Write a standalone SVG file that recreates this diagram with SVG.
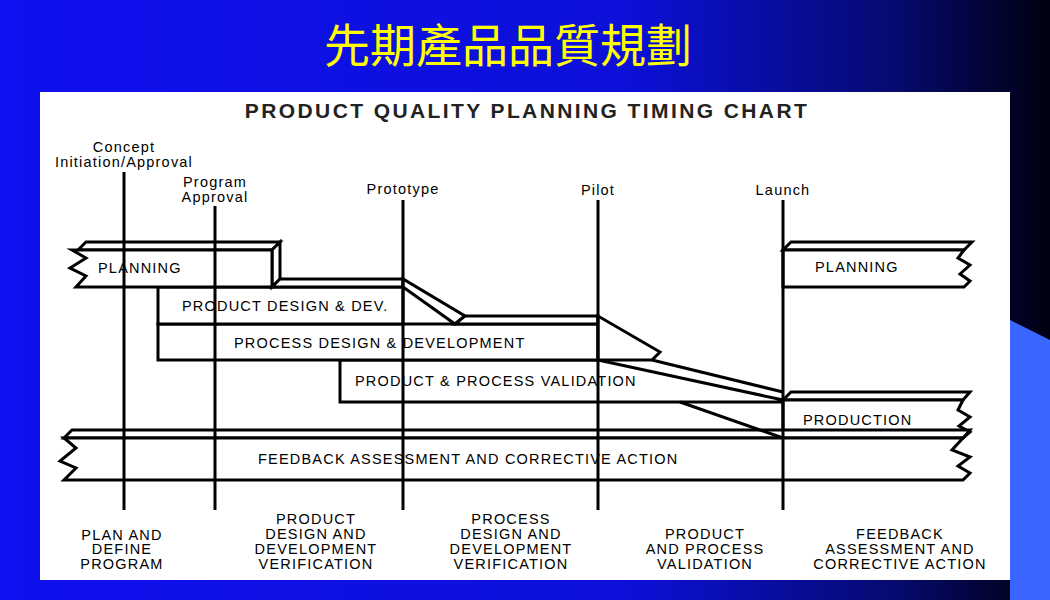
<svg xmlns="http://www.w3.org/2000/svg" width="1050" height="600" viewBox="0 0 1050 600">
<defs>
<linearGradient id="bg" x1="0" y1="0" x2="1" y2="0">
<stop offset="0" stop-color="#1010f0"/><stop offset="0.6" stop-color="#0c10d8"/><stop offset="0.85" stop-color="#060a70"/><stop offset="1" stop-color="#000010"/>
</linearGradient>
<style>
.s{fill:#fff;stroke:#000;stroke-width:3;stroke-linejoin:miter}
.v{stroke:#000;stroke-width:3}
.t{font-family:"Liberation Sans",Arial,sans-serif;font-size:14.5px;fill:#000;letter-spacing:1.2px}
.m{text-anchor:middle}
</style>
</defs>
<rect width="1050" height="600" fill="url(#bg)"/>
<path d="M1010,320 Q1030,330 1050,340 L1050,600 L1010,600 Z" fill="#3a66ff"/>
<text x="508" y="62" text-anchor="middle" font-family="'Noto Sans CJK TC','Noto Sans CJK SC',sans-serif" font-size="46" fill="#ffff00">先期產品品質規劃</text>
<rect x="40" y="92" width="970" height="488" fill="#fff"/>
<text x="527" y="118" text-anchor="middle" font-family="'Liberation Sans',Arial,sans-serif" font-weight="bold" font-size="21" letter-spacing="2.4" fill="#222">PRODUCT QUALITY PLANNING TIMING CHART</text>
<g id="milestones">
<text class="t m" x="124" y="152">Concept</text><text class="t m" x="124" y="167">Initiation/Approval</text>
<text class="t m" x="215" y="187">Program</text><text class="t m" x="215" y="202">Approval</text>
<text class="t m" x="403" y="194">Prototype</text>
<text class="t m" x="598" y="195">Pilot</text>
<text class="t m" x="783" y="195">Launch</text>
</g>
<g id="bars">
<g id="ppv"><polygon class="s" points="340,360 598,360 783,400 783,402 340,402"/><text class="t" x="355" y="386">PRODUCT &amp; PROCESS VALIDATION</text></g>
<g id="procdes"><rect class="s" x="158" y="324" width="440" height="36"/><text class="t" x="234" y="348">PROCESS DESIGN &amp; DEVELOPMENT</text></g>
<g id="proddes"><rect class="s" x="158" y="287" width="245" height="37"/><text class="t" x="182" y="311">PRODUCT DESIGN &amp; DEV.</text></g>
<g id="planning1">
<polygon class="s" points="78,250 86,242 280,242 272,250"/>
<polygon class="s" points="272,250 280,242 280,279 272,287"/>
<polygon class="s" points="72,250 272,250 272,287 76,287 86,276 70,268 86,258"/>
<text class="t" x="98" y="273">PLANNING</text>
</g>
<g id="planning2">
<polygon class="s" points="783,250 791,242 972,242 964,250"/>
<polygon class="s" points="783,250 964,250 958,258 970,265 960,274 970,281 964,287 783,287"/>
<text class="t" x="815" y="272">PLANNING</text>
</g>
<g id="production">
<polygon class="s" points="783,400 791,392 970,392 963,400"/>
<polygon class="s" points="783,400 963,400 958,410 970,417 959,426 970,432 963,438 783,438"/>
<text class="t" x="803" y="425">PRODUCTION</text>
</g>
<g id="feedback">
<polygon class="s" points="64,438 72,430 970,430 963,438"/>
<polygon class="s" points="64,438 963,438 952,450 970,457 958,466 970,473 963,480 64,480 76,468 60,461 76,448"/>
<text class="t" x="258" y="464">FEEDBACK ASSESSMENT AND CORRECTIVE ACTION</text>
</g>
</g>
<g id="connectors" fill="#fff" stroke="#000" stroke-width="3">
<polygon points="280,279 403,279 403,287 272,287"/>
<polygon points="403,287 403,279 465,316 455,324"/>
<polygon points="455,324 465,316 598,316 598,324"/>
<polygon points="598,324 598,316 660,352 652,360 598,360"/>
<line x1="652" y1="360" x2="783" y2="392"/>
<line x1="680" y1="402" x2="783" y2="438"/>
</g>
<g id="timelines">
<line class="v" x1="124" y1="172" x2="124" y2="510"/>
<line class="v" x1="215" y1="206" x2="215" y2="510"/>
<line class="v" x1="403" y1="200" x2="403" y2="510"/>
<line class="v" x1="598" y1="200" x2="598" y2="510"/>
<line class="v" x1="783" y1="200" x2="783" y2="510"/>
</g>
<g id="phases">
<text class="t m" x="122" y="540">PLAN AND</text><text class="t m" x="122" y="554">DEFINE</text><text class="t m" x="122" y="569">PROGRAM</text>
<text class="t m" x="316" y="524">PRODUCT</text><text class="t m" x="316" y="539">DESIGN AND</text><text class="t m" x="316" y="554">DEVELOPMENT</text><text class="t m" x="316" y="569">VERIFICATION</text>
<text class="t m" x="511" y="524">PROCESS</text><text class="t m" x="511" y="539">DESIGN AND</text><text class="t m" x="511" y="554">DEVELOPMENT</text><text class="t m" x="511" y="569">VERIFICATION</text>
<text class="t m" x="705" y="539">PRODUCT</text><text class="t m" x="705" y="554">AND PROCESS</text><text class="t m" x="705" y="569">VALIDATION</text>
<text class="t m" x="900" y="539">FEEDBACK</text><text class="t m" x="900" y="554">ASSESSMENT AND</text><text class="t m" x="900" y="569">CORRECTIVE ACTION</text>
</g>
</svg>
